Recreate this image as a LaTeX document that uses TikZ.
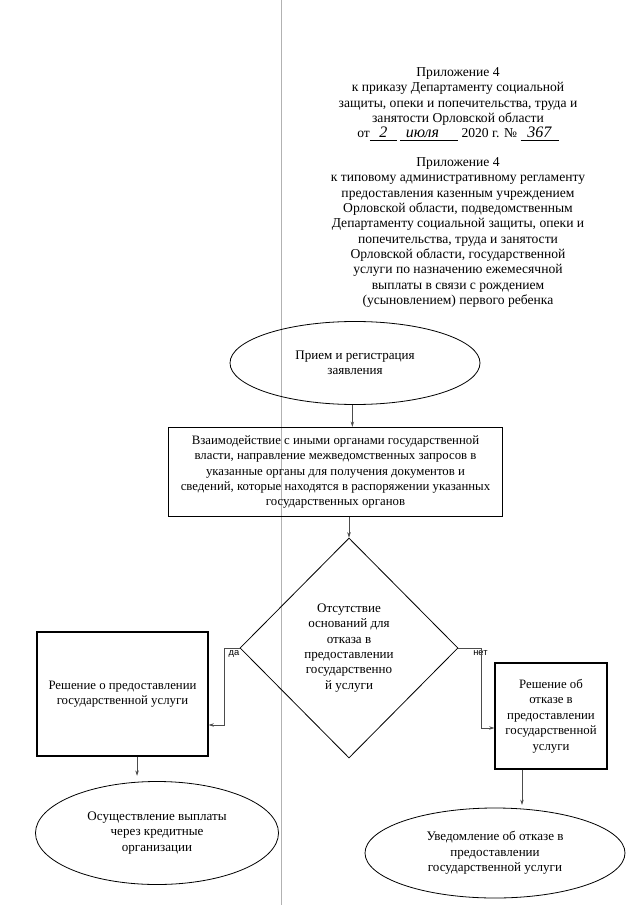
\documentclass[tikz,border=0pt]{standalone}
\usepackage{fontspec}
\setmainfont{Liberation Serif}
\newfontfamily\labelfont{Liberation Sans}
\usepackage{xcolor}
\definecolor{ScanGray}{gray}{0.7}
\definecolor{LinkGray}{gray}{0.3}
\usetikzlibrary{calc, arrows.meta, shapes.geometric}

\begin{document}
\begin{tikzpicture}[
        x=0.75pt, y=-0.75pt,
        font=\fontsize{10.2}{11.5}\selectfont,
        >={Stealth[length=4pt, width=2.6pt]},
        % Styles
        oval/.style={ellipse, draw, line width=0.6pt, inner sep=0pt, align=center, font=\fontsize{9.8}{11.5}\selectfont},
        stepbox/.style={rectangle, draw, line width=0.8pt, inner sep=2pt, align=center, font=\fontsize{9.6}{11.6}\selectfont},
        choice/.style={diamond, draw, line width=0.6pt, inner sep=0pt, align=center, font=\fontsize{9.8}{11.5}\selectfont},
        flow/.style={->, draw=LinkGray, line width=0.5pt},
        branch/.style={font=\labelfont\fontsize{7}{8}\selectfont, inner sep=0pt}
    ]
    \useasboundingbox (0,0) rectangle (640,905);
    % fold of the scanned page
    \draw[ScanGray, line width=0.4pt] (281,0) -- (281,905);

    % 1. HEADER
    \node[align=center, anchor=north] (order) at (458,63) {Приложение 4\\
        к приказу Департаменту социальной\\
        защиты, опеки и попечительства, труда и\\
        занятости Орловской области\\
        от\underline{\hspace{0.7em}\textit{\large 2}\hspace{0.7em}}\ \underline{\hspace{0.4em}\textit{\large июля}\hspace{1.4em}}\ 2020 г. №\ \underline{\hspace{0.5em}\textit{\large 367}\hspace{0.5em}}};
    \node[align=center, anchor=north] (rule) at (458,153) {Приложение 4\\
        к типовому административному регламенту\\
        предоставления казенным учреждением\\
        Орловской области, подведомственным\\
        Департаменту социальной защиты, опеки и\\
        попечительства, труда и занятости\\
        Орловской области, государственной\\
        услуги по назначению ежемесячной\\
        выплаты в связи с рождением\\
        (усыновлением) первого ребенка};

    % 2. MAIN LINE
    \node[oval, minimum width=187.5pt, minimum height=62.25pt] (receive) at (355,363) {Прием и регистрация\\заявления};
    \node[stepbox, minimum width=251pt, minimum height=67pt] (interact) at (335.5,472) {Взаимодействие с иными органами государственной\\
        власти, направление межведомственных запросов в\\
        указанные органы для получения документов и\\
        сведений, которые находятся в распоряжении указанных\\
        государственных органов};
    \node[choice, minimum width=163.5pt, minimum height=165pt] (check) at (349,648) {Отсутствие\\оснований для\\отказа в\\предоставлении\\государственно\\й услуги};

    % 3. BRANCHES
    \node[stepbox, minimum width=128.25pt, minimum height=93pt] (grant) at (122.5,694) {Решение о предоставлении\\государственной услуги};
    \node[oval, minimum width=182.25pt, minimum height=77.25pt] (pay) at (157,833) {Осуществление выплаты\\через кредитные\\организации};
    \node[stepbox, minimum width=84pt, minimum height=79.5pt] (refuse) at (551,716) {Решение об\\отказе в\\предоставлении\\государственной\\услуги};
    \node[oval, minimum width=195pt, minimum height=67.5pt] (notify) at (495,853) {Уведомление об отказе в\\предоставлении\\государственной услуги};

    \node[branch, anchor=north east] (yes) at ([yshift=-1.5pt]check.west) {да};
    \node[branch, anchor=north west] (no) at ([xshift=11pt, yshift=-1.5pt]check.east) {нет};

    % 4. CONNECTORS
    \draw[flow] ([xshift=-2pt]receive.south) -- ([xshift=-2pt]receive.south |- interact.north);
    \draw[flow] (interact.south -| check.north) -- (check.north);
    \draw[flow] (check.west) -- ++(-15,0) |- ([yshift=-23.25pt]grant.east);
    \draw[flow] (check.east) -- ++(23,0) |- ([yshift=-9pt]refuse.west);
    \draw[flow, shorten >=4pt] ([xshift=10.9pt]grant.south) -- ([xshift=10.9pt]grant.south |- pay.north);
    \draw[flow, shorten >=2pt] ([xshift=-21.75pt]refuse.south) -- ([xshift=-21.75pt]refuse.south |- notify.north);
\end{tikzpicture}
\end{document}
